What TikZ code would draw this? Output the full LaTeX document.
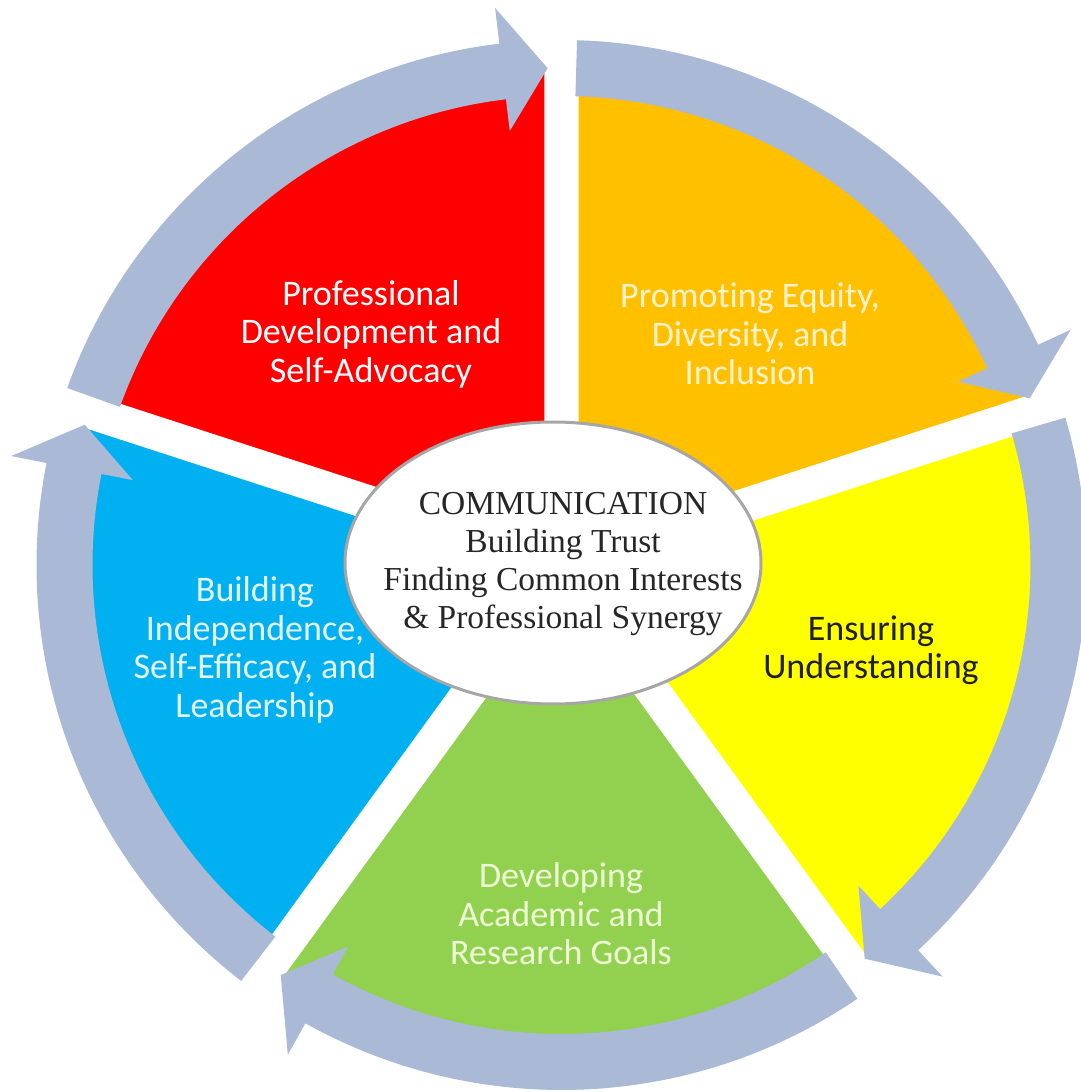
\documentclass[tikz,border=0pt]{standalone}
\usepackage{fontspec}
\usetikzlibrary{shapes.geometric}
\newfontfamily\slicefont{Carlito}
\newfontfamily\hubfont{Liberation Serif}
\definecolor{ringblue}{RGB}{169,185,214}
\definecolor{profred}{RGB}{255,0,0}
\definecolor{equityorange}{RGB}{255,192,0}
\definecolor{understandyellow}{RGB}{255,255,0}
\definecolor{goalsgreen}{RGB}{146,208,80}
\definecolor{leaderblue}{RGB}{0,176,240}
\def\slice#1#2{(0,0) -- (#1:495pt) arc[start angle=#1, end angle=#2, radius=495pt] -- cycle}
\def\ringarrow#1#2{(#1:469pt) arc[start angle=#1, end angle=#2+6.8, radius=469pt] -- ({#2+6.8}:437pt) -- ({#2+1.6}:497pt) -- ({#2+6.8}:561pt) -- ({#2+6.8}:525pt) arc[start angle=#2+6.8, end angle=#1, radius=525pt] -- cycle}
\tikzset{
	slicetext/.style={font=\slicefont\fontsize{36pt}{38.5pt}\selectfont, align=center},
	hub/.style={ellipse, draw=gray!70, line width=3pt, fill=white, minimum width=416pt, minimum height=282pt, inner sep=0pt},
	hubtext/.style={font=\hubfont\fontsize{33.5pt}{38pt}\selectfont, align=center, text=black!85},
	cutline/.style={white, line width=34pt}
}
\begin{document}
\begin{tikzpicture}
		\useasboundingbox (-561.5pt,-527pt) rectangle (519.5pt,565pt);
		
		%the five slices
		\fill[profred] \slice{90}{162};
		\fill[equityorange] \slice{18}{90};
		\fill[understandyellow] \slice{-54}{18};
		\fill[goalsgreen] \slice{-126}{-54};
		\fill[leaderblue] \slice{162}{234};
		\draw[cutline] (0,0) -- (90:500pt) (0,0) -- (18:500pt) (0,0) -- (-54:500pt) (0,0) -- (-126:500pt) (0,0) -- (162:500pt);
		
		%arrows round the ring
		\fill[ringblue] \ringarrow{160.3}{90};
		\fill[ringblue] \ringarrow{88.3}{18};
		\fill[ringblue] \ringarrow{16.3}{-54};
		\fill[ringblue] \ringarrow{-55.7}{-126};
		\fill[ringblue] \ringarrow{232.4}{162};
		
		\node[slicetext, text=white] (profdev) at (-190.5pt,231pt) {Professional\\Development and\\Self-Advocacy};
		\node[slicetext, text={rgb,255:red,255;green,242;blue,204}] (equity) at (188.5pt,231pt) {Promot\kern0pt ing Equity,\\Diversity, and\\Inclusion};
		\node[slicetext, text=black!88] (understand) at (309.5pt,-85pt) {Ensuring\\Understanding};
		\node[slicetext, text={rgb,255:red,238;green,255;blue,214}] (goals) at (-0.5pt,-349pt) {Developing\\Academic and\\Research Goals};
		\node[slicetext, text={rgb,255:red,228;green,246;blue,255}] (leader) at (-306.5pt,-85pt) {Building\\Independence,\\Self-Efficacy, and\\Leadership};
		
		%centre ellipse
		\node[hub] (hub) at (-8.5pt,2pt) {};
		\node[hubtext] (hubtext) at (1.5pt,1pt) {COMMUNICATION\\Building Trust\\Finding Common Interests\\\& Professional Synergy};
	\end{tikzpicture}
\end{document}
